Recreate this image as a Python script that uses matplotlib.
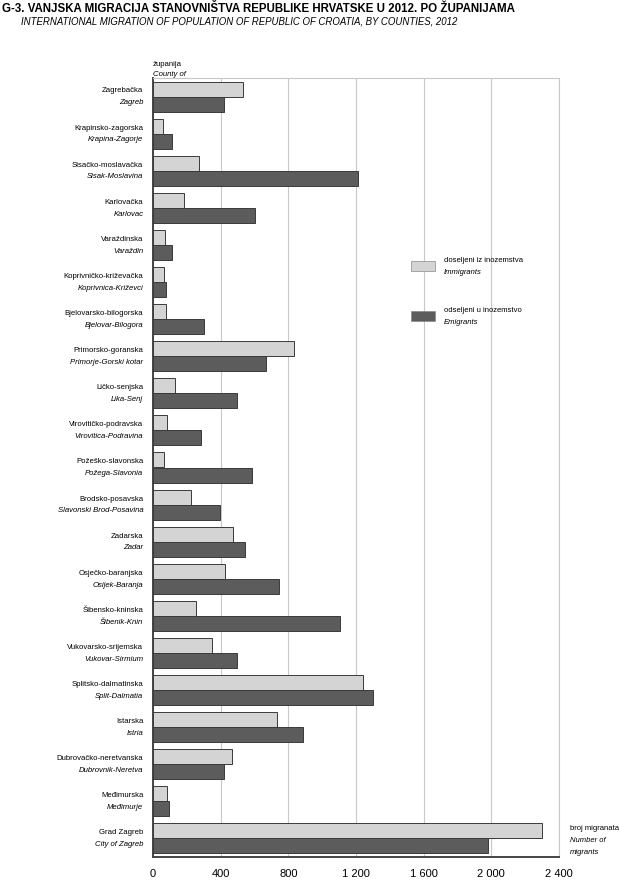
import numpy as np
import matplotlib
matplotlib.use("Agg")
import matplotlib.pyplot as plt
from matplotlib.patches import Rectangle

plt.rcParams['font.family'] = ['Liberation Sans', 'DejaVu Sans']

# county names (Croatian / English)
counties_hr = ["Zagrebačka", "Krapinsko-zagorska", "Sisačko-moslavačka", "Karlovačka",
               "Varaždinska", "Koprivničko-križevačka", "Bjelovarsko-bilogorska",
               "Primorsko-goranska", "Ličko-senjska", "Virovitičko-podravska",
               "Požeško-slavonska", "Brodsko-posavska", "Zadarska", "Osječko-baranjska",
               "Šibensko-kninska", "Vukovarsko-srijemska", "Splitsko-dalmatinska",
               "Istarska", "Dubrovačko-neretvanska", "Međimurska", "Grad Zagreb"]
counties_en = ["Zagreb", "Krapina-Zagorje", "Sisak-Moslavina", "Karlovac",
               "Varaždin", "Koprivnica-Križevci", "Bjelovar-Bilogora",
               "Primorje-Gorski kotar", "Lika-Senj", "Virovitica-Podravina",
               "Požega-Slavonia", "Slavonski Brod-Posavina", "Zadar", "Osijek-Baranja",
               "Šibenik-Knin", "Vukovar-Sirmium", "Split-Dalmatia",
               "Istria", "Dubrovnik-Neretva", "Međimurje", "City of Zagreb"]

immigrants = [531, 57, 270, 184, 69, 66, 75, 835, 131, 82, 66, 225, 472, 425, 257,
              351, 1243, 731, 466, 80, 2297]
emigrants = [417, 113, 1211, 600, 113, 76, 300, 668, 494, 284, 586, 394, 545, 743, 1105,
             496, 1298, 886, 417, 94, 1980]

xticks = [0, 400, 800, 1200, 1600, 2000, 2400]
xtick_labels = ["0", "400", "800", "1 200", "1 600", "2 000", "2 400"]

light = "#d4d4d4"
dark = "#5c5c5c"
edge = "#3a3a3a"
grid_c = "#c8c8c8"
narrow = ['Liberation Sans Narrow', 'Liberation Sans']

fig = plt.figure(figsize=(6.19, 8.81), dpi=100)
ax = fig.add_axes([153 / 619, 1 - 857 / 881, 406 / 619, (857 - 78) / 881])

y = np.arange(len(counties_hr))
h = 0.405
ax.barh(y - h / 2, immigrants, height=h, color=light, edgecolor=edge, linewidth=0.7, zorder=3)
ax.barh(y + h / 2, emigrants, height=h, color=dark, edgecolor=edge, linewidth=0.7, zorder=3)

ax.set_xlim(0, 2400)
ax.set_ylim(len(counties_hr) - 0.5, -0.5)
ax.set_xticks(xticks)
ax.set_xticklabels(xtick_labels, fontsize=8)
ax.tick_params(axis='x', length=0, pad=8.5)
ax.set_yticks([])
ax.grid(axis='x', color=grid_c, linewidth=0.8, zorder=0)
ax.set_axisbelow(True)

for s in ['top', 'right']:
    ax.spines[s].set_color(grid_c)
    ax.spines[s].set_linewidth(0.8)
for s in ['left', 'bottom']:
    ax.spines[s].set_color("#444444")
    ax.spines[s].set_linewidth(1.4)

# county labels
for i, (hr, en) in enumerate(zip(counties_hr, counties_en)):
    ax.annotate(hr, xy=(0, i), xycoords=('axes fraction', 'data'), xytext=(-7, 4),
                textcoords='offset points', ha='right', va='center', fontsize=5.6)
    ax.annotate(en, xy=(0, i), xycoords=('axes fraction', 'data'), xytext=(-7, -4.5),
                textcoords='offset points', ha='right', va='center', fontsize=5.6,
                style='italic')

# titles
fig.text(2 / 619, 1 - 9 / 881, "G-3. VANJSKA MIGRACIJA STANOVNIŠTVA REPUBLIKE HRVATSKE U 2012. PO ŽUPANIJAMA",
         fontsize=8.3, fontweight='bold', va='center', ha='left', family=narrow)
fig.text(21 / 619, 1 - 22 / 881, "INTERNATIONAL MIGRATION OF POPULATION OF REPUBLIC OF CROATIA, BY COUNTIES, 2012",
         fontsize=6.9, style='italic', va='center', ha='left')

fig.text(153 / 619, 1 - 64 / 881, "županija", fontsize=5.6, va='center', ha='left')
fig.text(153 / 619, 1 - 75 / 881, "County of", fontsize=5.6, va='center', ha='left', style='italic')

# legend
for yy, col, t1, t2 in [(266, light, "doseljeni iz inozemstva", "Immigrants"),
                         (316, dark, "odseljeni u inozemstvo", "Emigrants")]:
    fig.patches.append(Rectangle((411 / 619, 1 - (yy + 5) / 881), 24 / 619, 10 / 881,
                                 transform=fig.transFigure, facecolor=col,
                                 edgecolor="#888888", linewidth=0.5))
    fig.text(444 / 619, 1 - (yy - 5) / 881, t1, fontsize=5.5, va='center', ha='left')
    fig.text(444 / 619, 1 - (yy + 6) / 881, t2, fontsize=5.5, va='center', ha='left', style='italic')

fig.text(570 / 619, 1 - 829 / 881, "broj migranata", fontsize=5.5, va='center', ha='left')
fig.text(570 / 619, 1 - 841 / 881, "Number of", fontsize=5.5, va='center', ha='left', style='italic')
fig.text(570 / 619, 1 - 853 / 881, "migrants", fontsize=5.5, va='center', ha='left', style='italic')

fig.savefig("out.png", dpi=100)
